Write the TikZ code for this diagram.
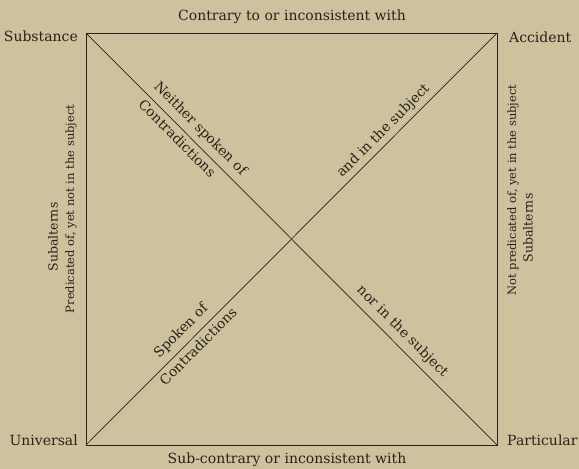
\documentclass[tikz,border=0pt]{standalone}
\usepackage{fontspec}
\setmainfont{DejaVu Serif}
\usepackage{tikz}
\definecolor{paper}{RGB}{206,193,158}
\definecolor{ink}{RGB}{40,34,27}
\begin{document}
\begin{tikzpicture}[x=1pt, y=-1pt,
	every node/.style={text=ink, inner sep=1pt, font=\fontsize{14}{16}\selectfont},
	side/.style={rotate=90, font=\fontsize{11.5}{13}\selectfont},
	diag/.style={sloped, font=\fontsize{13.7}{15}\selectfont}]
	\fill[paper] (0,0) rectangle (579,469);
	
	\coordinate (tl) at (86,33);
	\coordinate (tr) at (497,33);
	\coordinate (bl) at (86,445);
	\coordinate (br) at (497,445);
	
	\draw[ink, line width=0.8pt] (tl) rectangle (br);
	\draw[ink, line width=0.7pt] (tl) -- (br)
		node[diag, pos=0.255, above=5pt] (neither) {Neither spoken of}
		node[diag, pos=0.239, below=3pt] (contra1) {Contradictions}
		node[diag, pos=0.747, above=5pt] (nor) {nor in the subject};
	\draw[ink, line width=0.7pt] (bl) -- (tr)
		node[diag, pos=0.743, above=3pt] (andin) {and in the subject}
		node[diag, pos=0.254, above=5pt] (spoken) {Spoken of}
		node[diag, pos=0.256, below=3pt] (contra2) {Contradictions};
	
	\node[anchor=east] (sub) at (79,36) {Substance};
	\node[anchor=west] (acc) at (508,37) {Accident};
	\node[anchor=east] (uni) at (79,440) {Universal};
	\node[anchor=west] (par) at (506,440) {Particular};
	
	\node (contrary) at (292,17) {Contrary to or inconsistent with};
	\node (subcontrary) at (287,460) {Sub-contrary or inconsistent with};
	
	\node[side, font=\fontsize{12.5}{14}\selectfont] (subl) at (53,237) {Subalterns};
	\node[side] (predl) at (71,209) {Predicated of, yet not in the subject};
	\node[side] (predr) at (513,190) {Not predicated of, yet in the subject};
	\node[side, font=\fontsize{12.5}{14}\selectfont] (subr) at (528,228) {Subalterns};
\end{tikzpicture}
\end{document}
